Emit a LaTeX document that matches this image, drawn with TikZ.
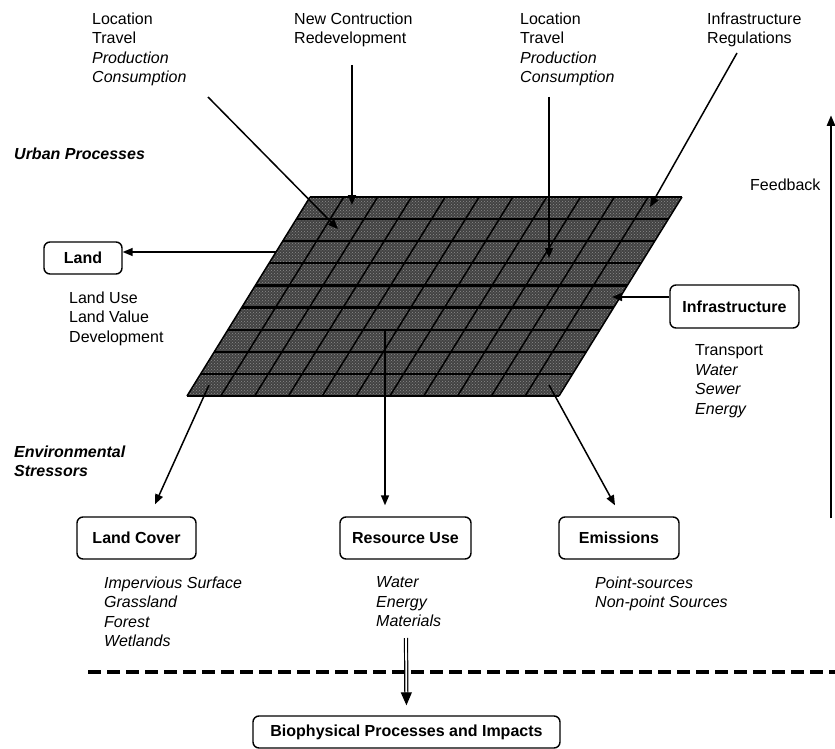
\documentclass[tikz,border=0pt]{standalone}
\usepackage{fontspec}
\setmainfont{Liberation Sans}
\usetikzlibrary{arrows.meta,positioning,patterns,calc}

\begin{document}
\begin{tikzpicture}[x=1pt,y=-1pt,>={Triangle[length=10pt,width=8pt]},font=\fontsize{16}{19.5}\selectfont]
        \tikzstyle{box}=[draw, line width=1.4pt, rounded corners=6pt, inner sep=0pt, minimum height=42pt, font=\fontsize{16}{19.5}\selectfont\bfseries]
        \tikzstyle{items}=[align=left, anchor=north west, inner sep=0pt]
        \tikzstyle{heading}=[align=left, inner sep=0pt, font=\fontsize{16}{19.5}\selectfont\bfseries\itshape]
        \tikzstyle{link}=[->, line width=1.5pt]
        \useasboundingbox (0,0) rectangle (835,749);

        % Corners of the urban grid
        \coordinate (g_tl) at (310,197);
        \coordinate (g_tr) at (682,197);
        \coordinate (g_br) at (559,396);
        \coordinate (g_bl) at (187,396);

        % Grid surface
        \fill[black!74] (g_tl) -- (g_tr) -- (g_br) -- (g_bl) -- cycle;
        \fill[pattern=crosshatch dots, pattern color=black!45] (g_tl) -- (g_tr) -- (g_br) -- (g_bl) -- cycle;
        \foreach \i in {0,...,9}
            \draw[line width=2.2pt] ($(g_tl)!\i/9!(g_bl)$) -- ($(g_tr)!\i/9!(g_br)$);
        \foreach \j in {0,...,11}
            \draw[line width=1.5pt] ($(g_tl)!\j/11!(g_tr)$) -- ($(g_bl)!\j/11!(g_br)$);

        % Driving forces at the top
        \node[items] (loc_a) at (92,12.5) {Location\\Travel\\\textit{Production}\\\textit{Consumption}};
        \node[items] (newcon) at (294,12.5) {New Contruction\\Redevelopment};
        \node[items] (loc_b) at (520,12.5) {Location\\Travel\\\textit{Production}\\\textit{Consumption}};
        \node[items] (infreg) at (707,12.5) {Infrastructure\\Regulations};

        % Section headings
        \node[heading, anchor=west] (urban) at (14,154) {Urban Processes};
        \node[heading, anchor=north west] (envstress) at (14,445.5) {Environmental\\Stressors};

        % Boxes
        \node[box, minimum width=78pt, minimum height=32pt] (land) at (83,258) {Land};
        \node[box, minimum width=129pt, minimum height=43pt] (infra) at (734.5,306.5) {Infrastructure};
        \node[box, minimum width=119pt] (landcover) at (136.5,538) {Land Cover};
        \node[box, minimum width=131pt] (resuse) at (405.5,538) {Resource Use};
        \node[box, minimum width=120pt] (emis) at (619,538) {Emissions};
        \node[box, minimum width=307pt, minimum height=32pt] (bio) at (406.5,732) {Biophysical Processes and Impacts};

        % Lists under the boxes
        \node[items] (landitems) at (69,291.3) {Land Use\\Land Value\\Development};
        \node[items] (infitems) at (695,344.5) {Transport\\\textit{Water}\\\textit{Sewer}\\\textit{Energy}};
        \node[items, font=\fontsize{16}{19.5}\selectfont\itshape] (lcitems) at (104,576.3) {Impervious Surface\\Grassland\\Forest\\Wetlands};
        \node[items, font=\fontsize{16}{19.5}\selectfont\itshape] (ruitems) at (376,576.3) {Water\\Energy\\Materials};
        \node[items, font=\fontsize{16}{19.5}\selectfont\itshape] (emitems) at (595,576.3) {Point-sources\\Non-point Sources};

        % Arrows into the grid
        \coordinate (s_loc_a) at (208,97);
        \coordinate (t_loc_a) at (338,229);
        \coordinate (s_newcon) at (352,65);
        \coordinate (t_newcon) at (352,205);
        \coordinate (s_loc_b) at (549,97);
        \coordinate (t_loc_b) at (549,258);
        \coordinate (s_infreg) at (737,53);
        \coordinate (t_infreg) at (650,207);
        \coordinate (t_infra) at (612,297);
        \draw[link] (s_loc_a) -- (t_loc_a);
        \draw[link] (s_newcon) -- (t_newcon);
        \draw[link] (s_loc_b) -- (t_loc_b);
        \draw[link] (s_infreg) -- (t_infreg);
        \draw[link] (infra.west |- t_infra) -- (t_infra);

        % Arrows out of the grid
        \coordinate (s_land) at (276,252);
        \coordinate (s_lc) at (209,385);
        \coordinate (s_ru) at (385,330);
        \coordinate (s_em) at (549,385);
        \draw[link] (s_land) -- (s_land -| land.east);
        \draw[link] (s_lc) -- ($(landcover.north)+(18.5,-12)$);
        \draw[link] (s_ru) -- ($(resuse.north)+(-20.5,-11)$);
        \draw[link] (s_em) -- ($(emis.north)+(-4,-11)$);

        % Feedback
        \node[anchor=west, inner sep=0pt] (fb) at (750,185) {Feedback};
        \coordinate (fb_bot) at (831,518);
        \coordinate (fb_top) at (831,115);
        \draw[line width=2.8pt, -{Triangle[length=11pt,width=8pt]}] (fb_bot) -- (fb_top);

        % Boundary and impacts
        \coordinate (dash_l) at (88,672);
        \coordinate (dash_r) at (835,672);
        \draw[line width=4pt, dash pattern=on 13pt off 6pt] (dash_l) -- (dash_r);
        \coordinate (dbl) at (406,638);
        \draw[double, double distance=1.8pt, line width=1.2pt, -{Triangle[length=13pt,width=11pt]}, shorten >=10pt] (dbl) -- (bio.north);
\end{tikzpicture}
\end{document}
